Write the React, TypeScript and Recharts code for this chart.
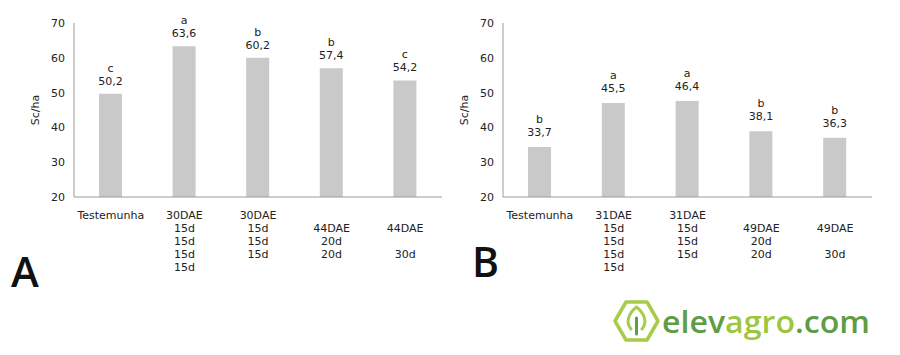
import { BarChart, Bar, XAxis, YAxis, LabelList, Label } from 'recharts';

// treatments (line breaks split the tick label into rows)
const categoriesA = ['Testemunha', '30DAE\n15d\n15d\n15d\n15d', '30DAE\n15d\n15d\n15d', '\n44DAE\n20d\n20d', '\n44DAE\n\n30d'];
const categoriesB = ['Testemunha', '31DAE\n15d\n15d\n15d\n15d', '31DAE\n15d\n15d\n15d', '\n49DAE\n20d\n20d', '\n49DAE\n\n30d'];

// bar heights as drawn (Sc/ha)
const barsA = [49.7, 63.3, 60.0, 57.0, 53.5];
const barsB = [34.4, 47.0, 47.6, 38.9, 37.0];

// printed means and Tukey letters
const meansA = ['50,2', '63,6', '60,2', '57,4', '54,2'];
const lettersA = ['c', 'a', 'b', 'b', 'c'];
const meansB = ['33,7', '45,5', '46,4', '38,1', '36,3'];
const lettersB = ['b', 'a', 'a', 'b', 'b'];

const yTicks = [20, 30, 40, 50, 60, 70];

const FONT = '"DejaVu Sans", sans-serif';
const INK = '#222';
const AXIS = '#9a9a9a';
const BAR = '#c9c9c9';

function MultiTick({ x, y, payload }: any) {
  const lines = String(payload.value).split('\n');
  return (
    <g transform={`translate(${x},${y})`}>
      {lines.map((l, i) => (
        <text key={i} x={0} y={20 + i * 13} textAnchor="middle" fontSize={11} fill={INK} fontFamily={FONT}>{l}</text>
      ))}
    </g>
  );
}

function makeTopLabel(means: string[], letters: string[], gap: number) {
  return (props: any) => {
    const { x, y, width, index } = props;
    const cx = x + width / 2;
    return (
      <g fontSize={11} fill={INK} fontFamily={FONT} textAnchor="middle">
        <text x={cx} y={y - gap - 13}>{letters[index]}</text>
        <text x={cx} y={y - gap}>{means[index]}</text>
      </g>
    );
  };
}

function YTitle({ viewBox }: any) {
  const x = viewBox.x + viewBox.width - 39;
  const y = viewBox.y + viewBox.height / 2;
  return (
    <text x={x} y={y} transform={`rotate(-90 ${x} ${y})`} textAnchor="middle" dominantBaseline="central"
      fontSize={11} fill={INK} fontFamily={FONT}>Sc/ha</text>
  );
}

function Panel({ cats, bars, means, letters, yWidth, right, gap }: any) {
  const data = cats.map((c: string, i: number) => ({ cat: c, v: bars[i] }));
  return (
    <BarChart width={450} height={300} data={data} margin={{ top: 23, right, bottom: 0, left: 0 }}>
      <XAxis dataKey="cat" interval={0} height={103} tickLine={false} tickSize={0}
        axisLine={{ stroke: AXIS }} tick={<MultiTick />} />
      <YAxis type="number" domain={[20, 70]} ticks={yTicks} width={yWidth} tickLine={false} tickSize={0}
        tickMargin={9} axisLine={{ stroke: AXIS }} tick={{ fill: INK, fontSize: 11, fontFamily: FONT }}>
        <Label content={<YTitle />} />
      </YAxis>
      <Bar dataKey="v" fill={BAR} barSize={23} isAnimationActive={false}>
        <LabelList dataKey="v" content={makeTopLabel(means, letters, gap)} />
      </Bar>
    </BarChart>
  );
}

export default function App() {
  return (
    <div style={{ position: 'absolute', left: 0, top: 0, width: 900, height: 355, background: '#fff' }}>
      <div style={{ position: 'absolute', left: 0, top: 0 }}>
        <Panel cats={categoriesA} bars={barsA} means={meansA} letters={lettersA} yWidth={74} right={8} gap={9} />
      </div>
      <div style={{ position: 'absolute', left: 450, top: 0 }}>
        <Panel cats={categoriesB} bars={barsB} means={meansB} letters={lettersB} yWidth={53} right={28} gap={11} />
      </div>
      <svg width={900} height={355} style={{ position: 'absolute', left: 0, top: 0, pointerEvents: 'none' }}>
        <text x={11} y={287} fontSize={42} fontFamily='"Open Sans", sans-serif' fontWeight={600} fill="#111">A</text>
        <text x={472} y={277} fontSize={41} fontFamily='"Open Sans", sans-serif' fontWeight={600} fill="#111">B</text>
        <g fill="none" strokeLinejoin="round" strokeLinecap="round">
          <path d="M615 321 L626 302 L647 302 L658 321 L647 340 L626 340 Z" stroke="#a7cc47" strokeWidth={3.5} />
          <path d="M631 329 C625 322 629 313 636.5 307 C644 313 648 322 642 329" stroke="#a7cc47" strokeWidth={3} />
          <path d="M636.5 318 L636.5 334" stroke="#5e9c45" strokeWidth={3} />
        </g>
        <text x={662} y={333} fontSize={30} fontFamily='"Open Sans", sans-serif' fontWeight={600}
          textLength={208} lengthAdjust="spacingAndGlyphs">
          <tspan fill="#5e9c45">elev</tspan><tspan fill="#9dc63f">agro</tspan><tspan fill="#5e9c45">.com</tspan>
        </text>
      </svg>
    </div>
  );
}
